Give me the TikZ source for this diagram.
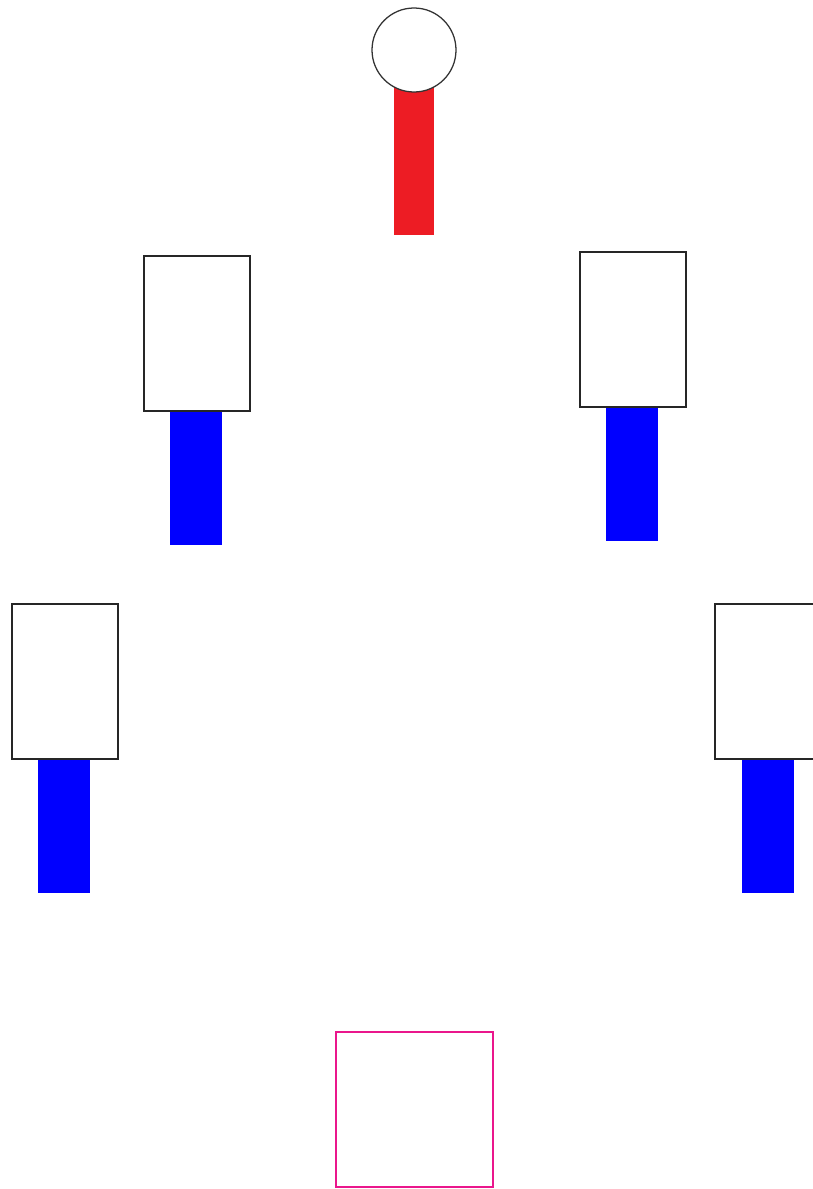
\documentclass[tikz,border=0pt]{standalone}
\usetikzlibrary{calc}
\definecolor{barred}{RGB}{237,28,36}
\definecolor{barblue}{RGB}{0,0,255}
\definecolor{boxpink}{RGB}{234,22,140}
\tikzset{
  head/.style={draw=black!85, line width=1.4pt, fill=white},
  leg/.style={fill=barblue},
}
\begin{document}
\begin{tikzpicture}[x=0.025cm,y=-0.025cm]
            \useasboundingbox (0,0) rectangle (812,1189);
            % 上の円
            \coordinate(C) at (414,50);
            \path[fill=barred](394,88) rectangle(434,235);
            \path[draw=black!80, line width=0.9pt, fill=white](C) circle[radius=42];

            % 左上
            \coordinate(A1) at (144,256);
            \coordinate(B1) at (250,411);
            \path[leg](170,411) rectangle(222,545);
            \path[head](A1) rectangle(B1);

            % 右上
            \coordinate(A2) at (580,252);
            \coordinate(B2) at (686,407);
            \path[leg](606,407) rectangle(658,541);
            \path[head](A2) rectangle(B2);

            % 左下
            \coordinate(A3) at (12,604);
            \coordinate(B3) at (118,759);
            \path[leg](38,759) rectangle(90,893);
            \path[head](A3) rectangle(B3);

            % 右下
            \coordinate(A4) at (715,604);
            \coordinate(B4) at (821,759);
            \path[leg](742,759) rectangle(794,893);
            \path[head](A4) rectangle(B4);

            % 下の四角
            \path[draw=boxpink, line width=2pt](336,1032) rectangle(493,1187);
        \end{tikzpicture}
\end{document}
